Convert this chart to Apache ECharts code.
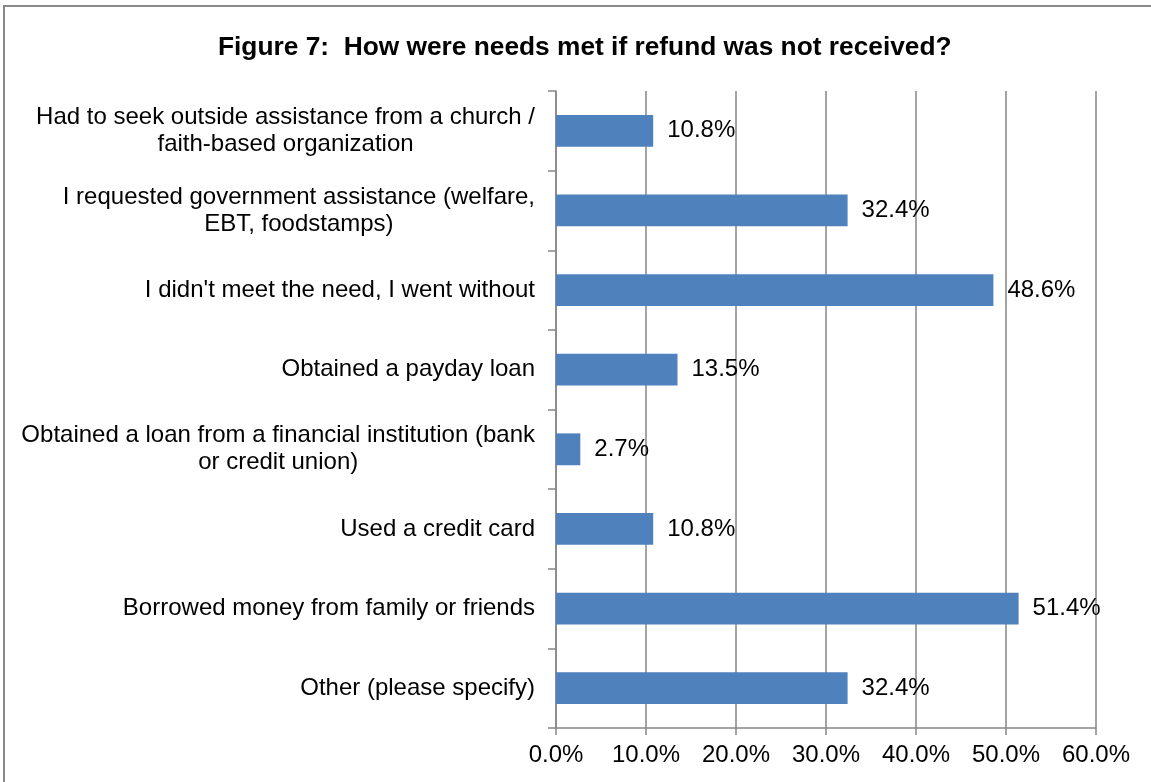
<!DOCTYPE html>
<html>
<head>
<meta charset="utf-8">
<script src="https://cdn.jsdelivr.net/npm/echarts@6/dist/echarts.min.js"></script>
<style>
  html, body { margin: 0; padding: 0; background: #fff; }
  #chart { width: 1151px; height: 782px; }
</style>
</head>
<body>
<div id="chart"></div>
<script>
// Response categories, top to bottom
const categories = [
  'Had to seek outside assistance from a church /\nfaith-based organization',
  'I requested government assistance (welfare,\nEBT, foodstamps)',
  "I didn't meet the need, I went without",
  'Obtained a payday loan',
  'Obtained a loan from a financial institution (bank\nor credit union)',
  'Used a credit card',
  'Borrowed money from family or friends',
  'Other (please specify)'
];
// Share of respondents (%)
const shares = [10.8, 32.4, 48.6, 13.5, 2.7, 10.8, 51.4, 32.4];
// Value axis range and step (%)
const axisMin = 0;
const axisMax = 60;
const axisStep = 10;

const FONT = '"Liberation Sans", Arial, sans-serif';
const GRAY = '#868686';
const TEXT_SIZE = 24;

const chart = echarts.init(document.getElementById('chart'), null, { renderer: 'canvas' });

chart.setOption({
  backgroundColor: '#fff',
  animation: false,
  title: {
    text: 'Figure 7:  How were needs met if refund was not received?',
    left: 213,
    top: 30,
    textStyle: { fontFamily: FONT, fontSize: 26.3, fontWeight: 'bold', color: '#000' }
  },
  graphic: [{
    type: 'rect',
    shape: { x: 4, y: 6, width: 1300, height: 900 },
    style: { fill: 'none', stroke: '#8a8a8a', lineWidth: 2 },
    silent: true,
    z: 0
  }],
  grid: { left: 556, right: 55, top: 91, bottom: 54, containLabel: false },
  xAxis: {
    type: 'value',
    min: axisMin,
    max: axisMax,
    interval: axisStep,
    axisLine: { show: true, lineStyle: { color: GRAY, width: 1.5 } },
    axisTick: { show: true, length: 7, lineStyle: { color: GRAY, width: 1.5 } },
    splitLine: { show: true, lineStyle: { color: GRAY, width: 1.5 } },
    axisLabel: {
      margin: 15,
      fontFamily: FONT,
      fontSize: TEXT_SIZE,
      color: '#000',
      formatter: v => v.toFixed(1) + '%'
    }
  },
  yAxis: {
    type: 'category',
    data: categories,
    inverse: true,
    axisLine: { show: true, lineStyle: { color: GRAY, width: 1.5 } },
    axisTick: { show: true, length: 8, alignWithLabel: false, lineStyle: { color: GRAY, width: 1.5 } },
    splitLine: { show: false },
    axisLabel: {
      margin: 21,
      fontFamily: FONT,
      fontSize: TEXT_SIZE,
      color: '#000',
      lineHeight: 27,
      formatter: v => v.split('\n').map(s => '{c|' + s + '}').join('\n'),
      rich: {
        c: { align: 'center', fontFamily: FONT, fontSize: TEXT_SIZE, lineHeight: 27, color: '#000' }
      }
    }
  },
  series: [{
    type: 'bar',
    data: shares,
    barCategoryGap: '60%',
    itemStyle: { color: '#4F81BD' },
    label: {
      show: true,
      position: 'right',
      distance: 14,
      fontFamily: FONT,
      fontSize: TEXT_SIZE,
      color: '#000',
      formatter: p => p.value.toFixed(1) + '%'
    },
    z: 3
  }]
});
</script>
</body>
</html>
